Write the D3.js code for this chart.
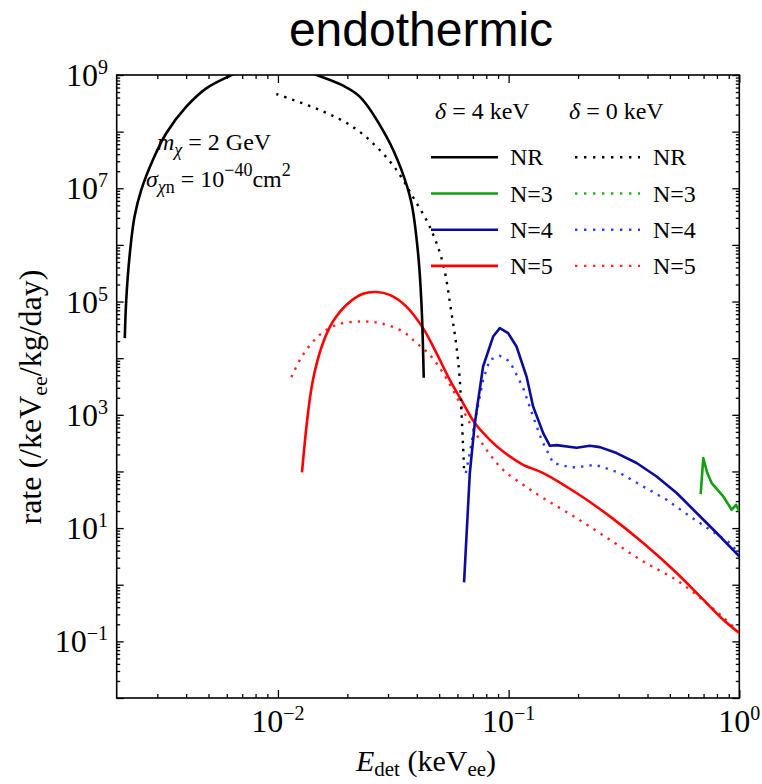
<!DOCTYPE html>
<html>
<head>
<meta charset="utf-8">
<script src="https://cdn.jsdelivr.net/npm/d3@7"></script>
<style>
  html, body { margin: 0; padding: 0; background: #fff; }
  svg { display: block; }
  text { font-family: "Liberation Serif", "Times New Roman", serif; fill: #000; }
</style>
</head>
<body>
<svg id="chart" width="762" height="784"></svg>
<script>
// ---------------- data (E_det in keVee, rate in /keVee/kg/day) ----------------
const nrSolid = [
  [0.002168, 2.26e4], [0.0022, 1.07e5], [0.002273, 6.2e5], [0.00239, 3.16e6],
  [0.002556, 9.35e6], [0.002869, 3.16e7], [0.00328, 9.35e7], [0.004005, 2.76e8],
  [0.00489, 5.82e8], [0.00617, 9.6e8], [0.00754, 1.35e9], [0.00948, 1.6e9],
  [0.01182, 1.35e9], [0.01472, 1.0e9], [0.01900, 6.6e8], [0.02262, 4.14e8],
  [0.02954, 8.15e7], [0.0343, 2.11e7], [0.03791, 5.51e6], [0.04049, 7.2e5],
  [0.04188, 9.5e4], [0.04286, 4.5e3]
];
const nrDotted = [
  [0.00984, 4.62e8], [0.01517, 2.41e8], [0.02109, 1.22e8], [0.02673, 5.43e7],
  [0.03264, 2.11e7], [0.03841, 7.1e6], [0.0455, 2.1e6], [0.05183, 4.82e5],
  [0.05653, 6.3e4], [0.05943, 1.61e4], [0.06142, 4.15e3], [0.06248, 1.09e3],
  [0.06348, 276], [0.0641, 107]
];
const n3Solid = [
  [0.680, 39.9], [0.698, 172], [0.7265, 93.7], [0.759, 62.4], [0.852, 36.2],
  [0.927, 21.1], [0.968, 25.8], [1.0, 19.7]
];
const n3Dotted = [];
const n4Solid = [
  [0.0641, 1.1], [0.06789, 93.7], [0.07136, 714], [0.07751, 7.13e3],
  [0.08567, 2.41e4], [0.09158, 3.39e4], [0.09949, 2.77e4], [0.1082, 1.61e4],
  [0.1196, 4.74e3], [0.1277, 1.40e3], [0.1412, 475], [0.1510, 284],
  [0.1614, 292], [0.1970, 262], [0.2251, 284], [0.2487, 269], [0.2938, 211],
  [0.3589, 141], [0.4382, 81.6], [0.5352, 41.6], [0.6534, 18.5], [0.798, 8.18],
  [1.0, 3.16]
];
const n4Dotted = [
  [0.0652, 93.7], [0.06789, 211], [0.07256, 1.07e3], [0.07751, 4.15e3],
  [0.08288, 9.35e3], [0.09158, 1.10e4], [0.1012, 8.73e3], [0.1156, 3.0e3],
  [0.1277, 933], [0.1389, 362], [0.1560, 141], [0.1843, 119], [0.2002, 119],
  [0.2366, 131], [0.257, 119], [0.3037, 93.7], [0.3833, 54.3], [0.4842, 31.6],
  [0.611, 16.1], [0.746, 9.35], [0.911, 5.45], [1.0, 3.53]
];
const n5Solid = [
  [0.01271, 96], [0.0141, 3.63e3], [0.01567, 1.85e4], [0.01732, 4.44e4],
  [0.0198, 8.7e4], [0.02338, 1.37e5], [0.02673, 1.47e5], [0.03052, 1.31e5],
  [0.03606, 8.15e4], [0.04256, 3.39e4], [0.04866, 1.23e4], [0.05558, 4.15e3],
  [0.06348, 1.61e3], [0.07136, 714], [0.08288, 362], [0.09465, 225],
  [0.1156, 131], [0.1412, 93.7], [0.197, 41.6], [0.2748, 16.1], [0.3833, 5.45],
  [0.5352, 1.61], [0.698, 0.544], [0.852, 0.2415], [1.0, 0.1406]
];
const n5Dotted = [
  [0.01143, 4.63e3], [0.01284, 1.15e4], [0.01517, 2.58e4], [0.01792, 3.88e4],
  [0.02262, 4.44e4], [0.02762, 4.16e4], [0.03485, 2.95e4], [0.03985, 1.85e4],
  [0.0455, 1.15e4], [0.05198, 5.45e3], [0.05943, 2.1e3], [0.06789, 714],
  [0.08018, 241], [0.09465, 107], [0.1156, 58.2], [0.1412, 33.9], [0.197, 15.0],
  [0.2748, 6.23], [0.3833, 2.58], [0.5352, 1.2], [0.698, 0.53], [0.852, 0.265],
  [1.0, 0.145]
];

const seriesNames = ["NR", "N=3", "N=4", "N=5"];
const legendHeaders = ["4 keV", "0 keV"];
const xTickLabels = [[0.01, "\u22122"], [0.1, "\u22121"], [1, "0"]];
const yTickLabels = [[1e-1, "\u22121"], [1e1, "1"], [1e3, "3"], [1e5, "5"], [1e7, "7"], [1e9, "9"]];
const title = "endothermic";

// ---------------- layout ----------------
const L = 116.7, R = 739.3, T = 75, B = 698;
const svg = d3.select("#chart");
const x = d3.scaleLog().domain([0.002, 1]).range([L, R]);
const y = d3.scaleLog().domain([1e-2, 1e9]).range([B, T]);

const colors = {
  "NR": ["#000000", "#000000"],
  "N=3": ["#12a012", "#1fb51f"],
  "N=4": ["#0b0b9c", "#2f3cf5"],
  "N=5": ["#ff0000", "#ff2424"]
};
const solidData = {"NR": nrSolid, "N=3": n3Solid, "N=4": n4Solid, "N=5": n5Solid};
const dottedData = {"NR": nrDotted, "N=3": n3Dotted, "N=4": n4Dotted, "N=5": n5Dotted};

// title
svg.append("text").attr("x", 421).attr("y", 46).attr("text-anchor", "middle")
  .style("font-family", "'Liberation Sans', Arial, sans-serif").style("font-size", "48px")
  .text(title);

// clip
svg.append("defs").append("clipPath").attr("id", "clip")
  .append("rect").attr("x", L).attr("y", T).attr("width", R - L).attr("height", B - T);

// ticks
function decadeMinors(lo, hi) {
  const out = [];
  for (let e = Math.floor(Math.log10(lo)); e <= Math.ceil(Math.log10(hi)); e++) {
    for (let m = 2; m <= 9; m++) {
      const v = m * Math.pow(10, e);
      if (v > lo * 1.0001 && v < hi * 0.9999) out.push(v);
    }
  }
  return out;
}
const xMajors = [0.01, 0.1, 1];
const xMinors = decadeMinors(0.002, 1);
const yMajors = d3.range(-2, 10).map(e => Math.pow(10, e));
const yMinors = decadeMinors(1e-2, 1e9);

const ax = svg.append("g").attr("class", "axes");
function drawAxis(axisGen, transform, vals, size) {
  const g = ax.append("g").attr("transform", transform)
    .call(axisGen.tickValues(vals).tickSize(-size).tickFormat(""));
  g.select(".domain").remove();
  g.selectAll(".tick line").attr("stroke", "#000").attr("stroke-width", 1.3);
}
drawAxis(d3.axisBottom(x), `translate(0,${B})`, xMajors, 8);
drawAxis(d3.axisBottom(x), `translate(0,${B})`, xMinors, 4);
drawAxis(d3.axisTop(x), `translate(0,${T})`, xMajors, 8);
drawAxis(d3.axisTop(x), `translate(0,${T})`, xMinors, 4);
drawAxis(d3.axisLeft(y), `translate(${L},0)`, yMajors, 7);
drawAxis(d3.axisLeft(y), `translate(${L},0)`, yMinors, 3.5);
drawAxis(d3.axisRight(y), `translate(${R},0)`, yMajors, 7);
drawAxis(d3.axisRight(y), `translate(${R},0)`, yMinors, 3.5);

ax.append("rect").attr("x", L).attr("y", T).attr("width", R - L).attr("height", B - T)
  .attr("fill", "none").attr("stroke", "#000").attr("stroke-width", 1.6);

// tick labels
function powLabel(g, exp) {
  g.append("tspan").text("10");
  g.append("tspan").attr("dy", -12).style("font-size", "20px").text(exp);
}
xTickLabels.forEach(([v, e]) => {
  const t = svg.append("text").attr("x", x(v)).attr("y", 731.5)
    .attr("text-anchor", "middle").style("font-size", "32px");
  powLabel(t, e);
});
yTickLabels.forEach(([v, e]) => {
  const t = svg.append("text").attr("x", 108).attr("y", y(v) + 11)
    .attr("text-anchor", "end").style("font-size", "32px");
  powLabel(t, e);
});

// axis titles
const xl = svg.append("text").attr("x", 426).attr("y", 771).attr("text-anchor", "middle")
  .style("font-size", "30px");
xl.append("tspan").style("font-style", "italic").text("E");
xl.append("tspan").attr("dy", 5).style("font-size", "21px").text("det");
xl.append("tspan").attr("dy", -5).text(" (keV");
xl.append("tspan").attr("dy", 5).style("font-size", "21px").text("ee");
xl.append("tspan").attr("dy", -5).text(")");

const yl = svg.append("text").attr("transform", "translate(41,397) rotate(-90)")
  .attr("text-anchor", "middle").style("font-size", "32px");
yl.append("tspan").text("rate (/keV");
yl.append("tspan").attr("dy", 6).style("font-size", "22px").text("ee");
yl.append("tspan").attr("dy", -6).text("/kg/day)");

// annotations
const a1 = svg.append("text").attr("x", 157).attr("y", 150).style("font-size", "24px");
a1.append("tspan").style("font-style", "italic").text("m");
a1.append("tspan").attr("dy", 6).style("font-size", "18px").style("font-style", "italic").text("\u03C7");
a1.append("tspan").attr("dy", -6).text(" = 2 GeV");
const a2 = svg.append("text").attr("x", 146).attr("y", 187).style("font-size", "24px");
a2.append("tspan").style("font-style", "italic").text("\u03C3");
a2.append("tspan").attr("dy", 6).style("font-size", "18px").style("font-style", "italic").text("\u03C7");
a2.append("tspan").style("font-size", "18px").text("n");
a2.append("tspan").attr("dy", -6).text(" = 10");
a2.append("tspan").attr("dy", -11).style("font-size", "18px").text("\u221240");
a2.append("tspan").attr("dy", 11).text("cm");
a2.append("tspan").attr("dy", -11).style("font-size", "18px").text("2");

// curves
const lineSmooth = d3.line().x(d => x(d[0])).y(d => y(d[1])).curve(d3.curveCatmullRom.alpha(0.5));
const lineLin = d3.line().x(d => x(d[0])).y(d => y(d[1]));
const plot = svg.append("g").attr("clip-path", "url(#clip)");
const drawOrder = ["N=5", "NR", "N=4", "N=3"];
drawOrder.forEach(name => {
  const gen = (name === "N=4" || name === "N=3") ? lineLin : lineSmooth;
  if (dottedData[name].length) {
    plot.append("path").attr("d", gen(dottedData[name])).attr("fill", "none")
      .attr("stroke", colors[name][1]).attr("stroke-width", 2.4)
      .attr("stroke-dasharray", "2.4,6");
  }
  plot.append("path").attr("d", gen(solidData[name])).attr("fill", "none")
    .attr("stroke", colors[name][0]).attr("stroke-width", 2.6)
    .attr("stroke-linejoin", "round");
});

// legend
const lg = svg.append("g");
[435, 569].forEach((lx, i) => {
  const t = lg.append("text").attr("x", lx).attr("y", 119).style("font-size", "24px");
  t.append("tspan").style("font-style", "italic").text("\u03B4");
  t.append("tspan").text(" = " + legendHeaders[i]);
});
seriesNames.forEach((name, i) => {
  const yy = 157.3 + i * 36.2;
  lg.append("line").attr("x1", 431).attr("x2", 498).attr("y1", yy).attr("y2", yy)
    .attr("stroke", colors[name][0]).attr("stroke-width", 2.6);
  lg.append("text").attr("x", 510).attr("y", yy + 8).style("font-size", "24px").text(name);
  lg.append("line").attr("x1", 575).attr("x2", 640).attr("y1", yy).attr("y2", yy)
    .attr("stroke", colors[name][1]).attr("stroke-width", 2.4).attr("stroke-dasharray", "2.4,6.6");
  lg.append("text").attr("x", 653).attr("y", yy + 8).style("font-size", "24px").text(name);
});
</script>
</body>
</html>
